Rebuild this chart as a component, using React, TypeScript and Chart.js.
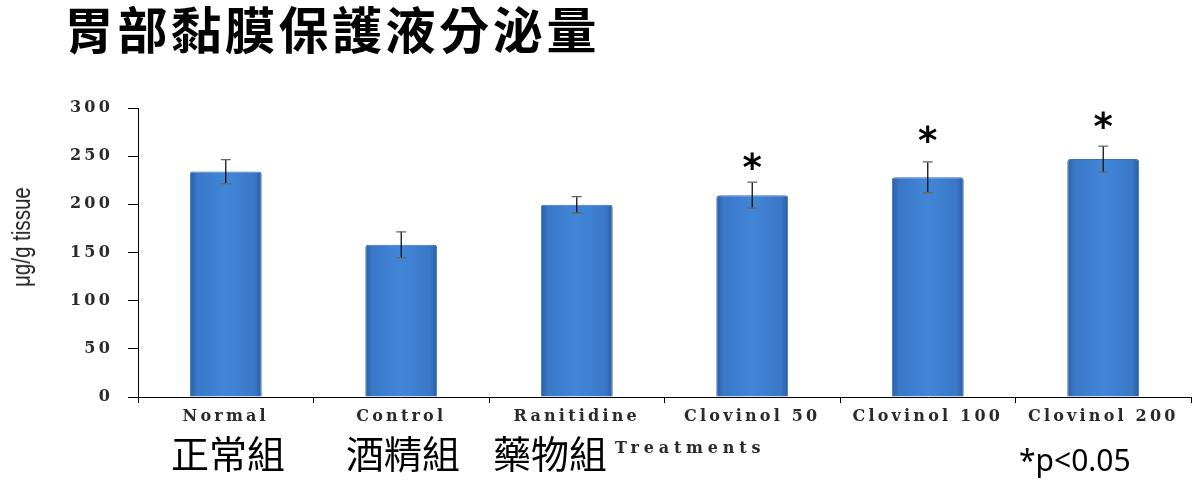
import React, { useEffect, useRef } from "react";
import { Chart, registerables } from "chart.js";

Chart.register(...registerables);

const categories = ["Normal", "Control", "Ranitidine", "Clovinol 50", "Clovinol 100", "Clovinol 200"];
const means = [234, 158, 199.5, 209.5, 228, 247];
const errors = [12.5, 13.5, 8.5, 13.5, 16, 13.5];
const starLevels: (number | null)[] = [null, null, null, 245, 273, 288];
const yMin = 0;
const yMax = 300;
const yStep = 50;
const groupLabelsZh = ["正常組", "酒精組", "藥物組"];
const titleText = "胃部黏膜保護液分泌量";
const yTitle = "μg/g tissue";
const xTitle = "Treatments";
const noteText = "*p<0.05";

const BAR_FRACTION = 0.41;

const errorBarPlugin = {
  id: "errorBars",
  beforeDraw(chart: any) {
    chart.ctx.letterSpacing = "3.2px";
  },
  afterDatasetsDraw(chart: any) {
    const ctx = chart.ctx;
    const meta = chart.getDatasetMeta(0);
    const ys = chart.scales.y;
    ctx.save();
    ctx.letterSpacing = "0px";
    meta.data.forEach((bar: any, i: number) => {
      const x = bar.x;
      const top = ys.getPixelForValue(means[i] + errors[i]);
      const bot = ys.getPixelForValue(means[i] - errors[i]);
      ctx.strokeStyle = "#111";
      ctx.lineWidth = 1.3;
      ctx.beginPath();
      ctx.moveTo(x, top);
      ctx.lineTo(x, bot);
      ctx.stroke();
      ctx.strokeStyle = "#666";
      ctx.lineWidth = 1.3;
      ctx.beginPath();
      ctx.moveTo(x - 5, top);
      ctx.lineTo(x + 5, top);
      ctx.moveTo(x - 5, bot);
      ctx.lineTo(x + 5, bot);
      ctx.stroke();
      const s = starLevels[i];
      if (s !== null && s !== undefined) {
        const cy = ys.getPixelForValue(s);
        ctx.font = "bold 37px 'DejaVu Sans'";
        ctx.fillStyle = "#000";
        ctx.textAlign = "center";
        ctx.textBaseline = "alphabetic";
        const m = ctx.measureText("*");
        const baseline = cy + (m.actualBoundingBoxAscent - m.actualBoundingBoxDescent) / 2;
        ctx.fillText("*", x, baseline);
      }
    });
    ctx.restore();
  },
};

export default function App() {
  const ref = useRef<HTMLCanvasElement | null>(null);

  useEffect(() => {
    if (!ref.current) return;
    const chart = new Chart(ref.current, {
      type: "bar",
      data: {
        labels: categories,
        datasets: [
          {
            data: means,
            backgroundColor: (c: any) => {
              const ch = c.chart;
              const xs = ch.scales && ch.scales.x;
              if (!xs || c.dataIndex === undefined || !ch.chartArea) return "#3f82d6";
              const cx = xs.getPixelForValue(c.dataIndex);
              const w = (xs.width / categories.length) * BAR_FRACTION;
              const g = ch.ctx.createLinearGradient(cx - w / 2, 0, cx + w / 2, 0);
              g.addColorStop(0, "#2b5c9f");
              g.addColorStop(0.1, "#3a78c8");
              g.addColorStop(0.5, "#4286d8");
              g.addColorStop(0.9, "#3a78c8");
              g.addColorStop(1, "#2b5c9f");
              return g;
            },
            borderColor: "#3670bd",
            borderWidth: 1,
            borderSkipped: "bottom",
            borderRadius: { topLeft: 3, topRight: 3, bottomLeft: 0, bottomRight: 0 },
            barPercentage: BAR_FRACTION,
            categoryPercentage: 1,
          },
        ],
      },
      options: {
        responsive: false,
        animation: false,
        events: [],
        layout: { padding: { top: 108, right: 13, bottom: 0, left: 0 } },
        plugins: {
          legend: { display: false },
          tooltip: { enabled: false },
          title: { display: false },
        },
        scales: {
          x: {
            afterFit: (s: any) => {
              s.height = 87;
            },
            grid: {
              offset: true,
              drawOnChartArea: false,
              drawTicks: true,
              tickLength: 6,
              color: "#000",
            },
            border: { display: true, color: "#000", width: 1 },
            ticks: {
              autoSkip: false,
              maxRotation: 0,
              minRotation: 0,
              padding: 4,
              color: "#2a2a2a",
              font: { family: "'DejaVu Serif'", size: 16, weight: "bold" },
            },
          },
          y: {
            min: yMin,
            max: yMax,
            afterFit: (s: any) => {
              s.width = 138;
            },
            grid: {
              drawOnChartArea: false,
              drawTicks: true,
              tickLength: 10,
              color: "#000",
            },
            border: { display: true, color: "#000", width: 1 },
            ticks: {
              stepSize: yStep,
              padding: 15,
              color: "#2a2a2a",
              font: { family: "'DejaVu Serif'", size: 16, weight: "bold" },
            },
          },
        },
      },
      plugins: [errorBarPlugin],
    } as any);
    return () => chart.destroy();
  }, []);

  const zhLeft = [171, 346, 493];

  return (
    <div style={{ position: "absolute", left: 0, top: 0, width: 1204, height: 484, background: "#fff", overflow: "hidden" }}>
      <canvas ref={ref} width={1204} height={484} style={{ position: "absolute", left: 0, top: 0, width: 1204, height: 484 }} />
      <div
        style={{
          position: "absolute",
          left: 64,
          top: 2,
          fontFamily: "'Noto Sans CJK TC', 'Noto Sans CJK SC', sans-serif",
          fontWeight: 700,
          fontSize: 50,
          lineHeight: "50px",
          letterSpacing: "3.6px",
          color: "#000",
          whiteSpace: "nowrap",
        }}
      >
        {titleText}
      </div>
      <div
        style={{
          position: "absolute",
          left: 21,
          top: 237,
          transform: "translate(-50%, -50%) rotate(-90deg) scaleX(0.79)",
          fontFamily: "'Liberation Sans', sans-serif",
          fontSize: 26,
          lineHeight: "26px",
          color: "#222",
          whiteSpace: "nowrap",
        }}
      >
        {yTitle}
      </div>
      {groupLabelsZh.map((t, i) => (
        <div
          key={t}
          style={{
            position: "absolute",
            left: zhLeft[i],
            top: 432,
            fontFamily: "'Noto Sans CJK TC', sans-serif",
            fontSize: 38,
            lineHeight: "40px",
            color: "#000",
            whiteSpace: "nowrap",
          }}
        >
          {t}
        </div>
      ))}
      <div
        style={{
          position: "absolute",
          left: 615,
          top: 438,
          fontFamily: "'DejaVu Serif', serif",
          fontWeight: 700,
          fontSize: 16,
          lineHeight: "20px",
          letterSpacing: "4.8px",
          color: "#2a2a2a",
          whiteSpace: "nowrap",
        }}
      >
        {xTitle}
      </div>
      <div
        style={{
          position: "absolute",
          left: 1019,
          top: 442,
          fontFamily: "'Noto Sans', sans-serif",
          fontSize: 30,
          lineHeight: "36px",
          color: "#000",
          whiteSpace: "nowrap",
        }}
      >
        {noteText}
      </div>
    </div>
  );
}
